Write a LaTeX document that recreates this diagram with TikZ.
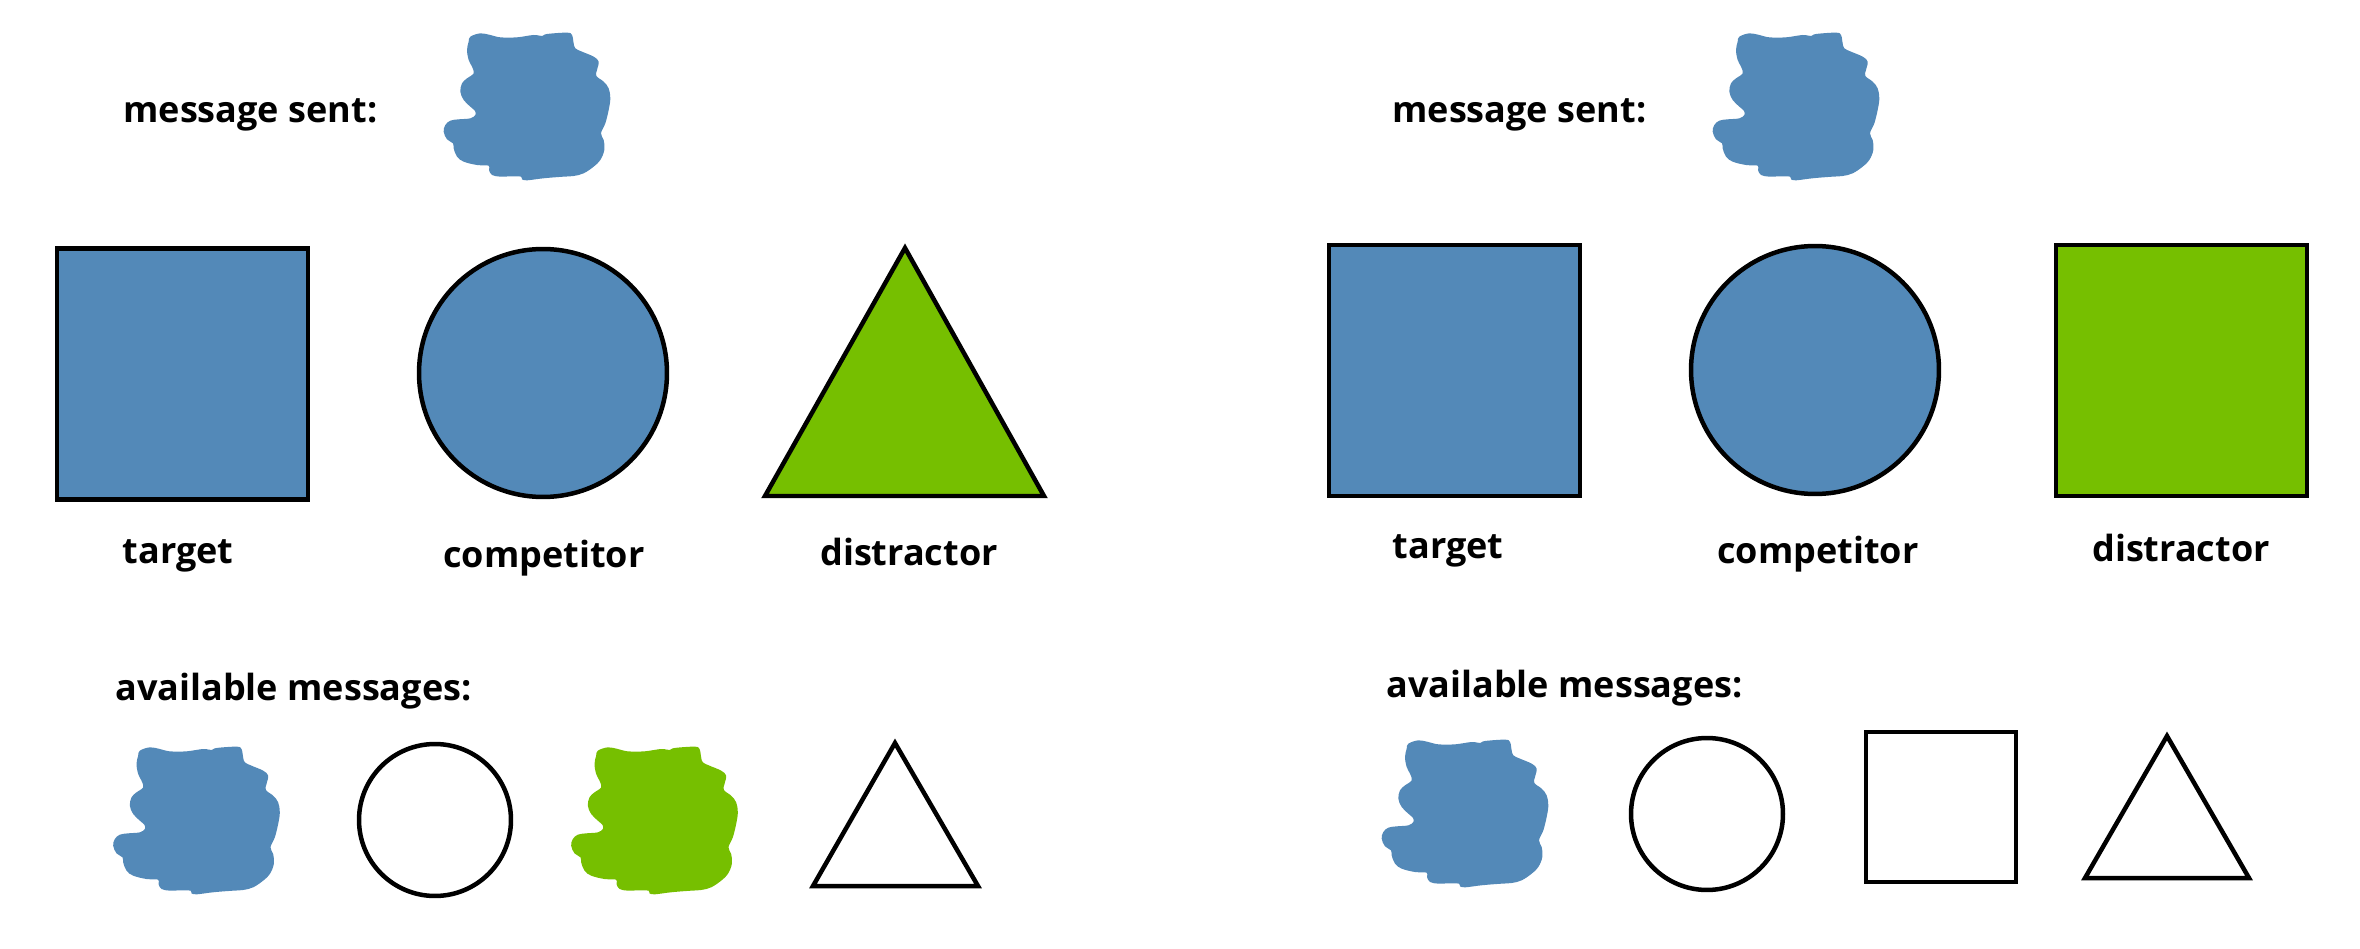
\documentclass[tikz,border=0pt]{standalone}
\usepackage{fontspec}
\setmainfont{Open Sans}
\definecolor{cblue}{RGB}{83,137,184}
\definecolor{cgreen}{RGB}{118,191,0}
\tikzset{
  x=0.02cm, y=-0.02cm,
  lbl/.style={font=\fontsize{20.5}{24}\selectfont\bfseries, inner sep=0pt, anchor=base},
  hdr/.style={font=\fontsize{20.5}{24}\selectfont\bfseries, inner sep=0pt, anchor=base west},
  shp/.style={draw=black, line width=0.09cm, inner sep=0pt},
  sqbig/.style={shp, rectangle, minimum size=5.02cm},
  cibig/.style={shp, circle, minimum size=4.96cm},
  sqsmall/.style={shp, rectangle, minimum size=3.0cm},
  cismall/.style={shp, circle, minimum size=3.04cm},
  tri/.style={draw=black, line width=0.09cm, line join=miter},
  blob/.pic={
    \fill[pic actions] plot[smooth cycle, tension=0.6] coordinates {
      (-170,-208) (-140,-218) (-110,-213) (-80,-206) (-30,-206) (20,-213) (45,-210)
      (60,-216) (120,-220) (135,-213) (140,-188) (145,-173) (165,-163) (200,-148)
      (215,-133) (210,-108) (208,-90) (230,-73) (245,-53) (250,-23) (245,12)
      (235,52) (222,82) (230,102) (232,132) (220,162) (200,182) (170,202)
      (140,210) (110,212) (70,215) (40,218) (0,223) (-15,220) (-18,212)
      (-50,211) (-80,212) (-105,207) (-114,192) (-115,179) (-150,177) (-190,167)
      (-210,152) (-220,127) (-222,112) (-240,100) (-250,77) (-245,57) (-230,44)
      (-205,40) (-170,37) (-155,27) (-156,15) (-170,2) (-190,-18) (-200,-43)
      (-195,-68) (-180,-83) (-160,-98) (-165,-118) (-175,-138) (-180,-168) (-175,-193)
    };
  }
}
\begin{document}
\begin{tikzpicture}
\useasboundingbox (0,0) rectangle (2360,949);

% ---------- left panel ----------
\node[hdr] (ms1) at (123,123) {message sent:};
\pic[fill=cblue, scale=1/3] (sent1) at (527,106) {blob};

\node[sqbig, fill=cblue] (t1) at (182.5,374) {};
\node[cibig, fill=cblue] (c1) at (543,373) {};
\coordinate (d1a) at (905,248);
\coordinate (d1b) at (1044,496);
\coordinate (d1c) at (765,496);
\draw[tri, fill=cgreen] (d1a) -- (d1b) -- (d1c) -- cycle;

\node[lbl] (lt1) at (178,563) {target};
\node[lbl] (lc1) at (544,567) {competitor};
\node[lbl] (ld1) at (909,565) {distractor};

\node[hdr] (am1) at (115,700) {available messages:};
\pic[fill=cblue, scale=1/3] (m1a) at (196.5,820) {blob};
\node[cismall] (m1b) at (435,820) {};
\pic[fill=cgreen, scale=1/3] (m1c) at (654.5,820) {blob};
\coordinate (m1da) at (895,743);
\coordinate (m1db) at (978,886);
\coordinate (m1dc) at (813,886);
\draw[tri] (m1da) -- (m1db) -- (m1dc) -- cycle;

% ---------- right panel ----------
\node[hdr] (ms2) at (1392,123) {message sent:};
\pic[fill=cblue, scale=1/3] (sent2) at (1796,106) {blob};

\node[sqbig, fill=cblue] (t2) at (1454.5,370.5) {};
\node[cibig, fill=cblue] (c2) at (1815,370) {};
\node[sqbig, fill=cgreen] (d2) at (2181.5,370.5) {};

\node[lbl] (lt2) at (1448,558) {target};
\node[lbl] (lc2) at (1818,563) {competitor};
\node[lbl] (ld2) at (2181,561) {distractor};

\node[hdr] (am2) at (1386,697) {available messages:};
\pic[fill=cblue, scale=1/3] (m2a) at (1465,813) {blob};
\node[cismall] (m2b) at (1707,814) {};
\node[sqsmall] (m2c) at (1941,807) {};
\coordinate (m2da) at (2167,736);
\coordinate (m2db) at (2249,878);
\coordinate (m2dc) at (2085,878);
\draw[tri] (m2da) -- (m2db) -- (m2dc) -- cycle;
\end{tikzpicture}
\end{document}
